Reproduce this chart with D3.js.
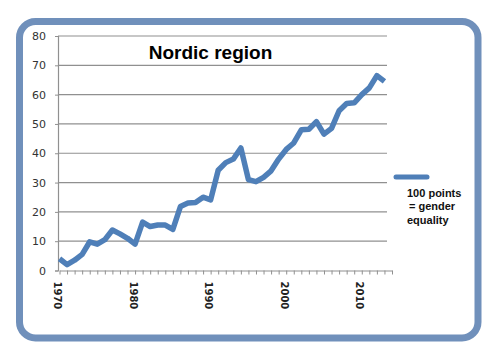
<!DOCTYPE html>
<html lang="en">
<head>
<meta charset="UTF-8">
<title>Nordic region</title>
<script src="https://d3js.org/d3.v7.min.js"></script>
<style>
  body { margin: 0; background: #fff; }
  .tick text { font-family: "DejaVu Sans", Verdana, sans-serif; }
  .lbl { font-family: "Liberation Sans", Arial, sans-serif; font-weight: bold; }
</style>
</head>
<body>
<div id="chart"></div>
<script>
// values, one per year
var years = d3.range(1970, 2014);
var index = [
  4, 2, 3.5, 5.5, 9.8, 9, 10.5, 13.8, 12.5, 11,
  9, 16.5, 15, 15.5, 15.5, 14, 21.8, 23, 23.2, 25,
  24.1, 34.2, 36.8, 38, 41.8, 31, 30.3, 31.8, 34, 38,
  41.3, 43.5, 48, 48.2, 50.8, 46.5, 48.5, 54.5, 57, 57.2,
  60, 62.3, 66.5, 64.5
];
var yTicks = [0, 10, 20, 30, 40, 50, 60, 70, 80];
var xLabels = [1970, 1980, 1990, 2000, 2010];
var legendLines = ["100 points", "= gender", "equality"];

var width = 504, height = 361;
var blue = "#4f7fb8";

var svg = d3.select("#chart").append("svg")
    .attr("width", width)
    .attr("height", height);

// rounded frame
svg.append("rect")
    .attr("x", 19.5).attr("y", 21.5)
    .attr("width", 458.5).attr("height", 316.5)
    .attr("rx", 16).attr("ry", 16)
    .attr("fill", "#fff")
    .attr("stroke", "#7090bb")
    .attr("stroke-width", 7);

var x = d3.scaleLinear().domain([1970, 2014]).range([59.5, 392]);
var y = d3.scaleLinear().domain([0, 80]).range([270.5, 36]);

// gridlines
svg.append("g")
    .selectAll("line")
    .data(yTicks.slice(1))
    .join("line")
    .attr("x1", 58).attr("x2", 387)
    .attr("y1", function (d) { return y(d); })
    .attr("y2", function (d) { return y(d); })
    .attr("stroke", "#909090")
    .attr("stroke-width", 1.2);

// y axis
var yAxis = svg.append("g")
    .attr("transform", "translate(58,0)")
    .call(d3.axisLeft(y).tickValues(yTicks).tickSize(3).tickPadding(9));
yAxis.select(".domain").attr("stroke", "#909090").attr("stroke-width", 1.2);
yAxis.selectAll(".tick line").attr("stroke", "#909090");
yAxis.selectAll(".tick text")
    .attr("font-size", 11)
    .attr("fill", "#333");

// x axis, a tick every year
var xAxis = svg.append("g")
    .attr("transform", "translate(0," + y(0) + ")")
    .call(d3.axisBottom(x)
        .tickValues(d3.range(1970, 2015))
        .tickSize(4)
        .tickSizeOuter(0)
        .tickFormat(function (d) { return xLabels.indexOf(d) >= 0 ? d : ""; }));
xAxis.select(".domain").attr("stroke", "#909090").attr("stroke-width", 1.2);
xAxis.selectAll(".tick line").attr("stroke", "#909090");
xAxis.selectAll(".tick text")
    .attr("font-size", 10)
    .attr("font-weight", "bold")
    .attr("fill", "#222")
    .attr("text-anchor", "start")
    .attr("transform", "rotate(90)")
    .attr("x", 11)
    .attr("y", 0)
    .attr("dy", "0.6em");

// series
var line = d3.line()
    .x(function (d, i) { return x(years[i]); })
    .y(function (d) { return y(d); });

svg.append("path")
    .datum(index)
    .attr("d", line)
    .attr("fill", "none")
    .attr("stroke", blue)
    .attr("stroke-width", 5.5)
    .attr("stroke-linejoin", "round");

// title
svg.append("text")
    .attr("class", "lbl")
    .attr("x", 210.5).attr("y", 59)
    .attr("text-anchor", "middle")
    .attr("font-size", 19)
    .attr("fill", "#000")
    .text("Nordic region");

// legend
svg.append("line")
    .attr("x1", 396).attr("x2", 427)
    .attr("y1", 177).attr("y2", 177)
    .attr("stroke", blue)
    .attr("stroke-width", 5)
    .attr("stroke-linecap", "round");

svg.append("g")
    .selectAll("text")
    .data(legendLines)
    .join("text")
    .attr("class", "lbl")
    .attr("x", function (d, i) { return i === 1 ? 409 : 407; })
    .attr("y", function (d, i) { return 196.5 + i * 13.5; })
    .attr("font-size", 11)
    .attr("fill", "#111")
    .text(function (d) { return d; });
</script>
</body>
</html>
